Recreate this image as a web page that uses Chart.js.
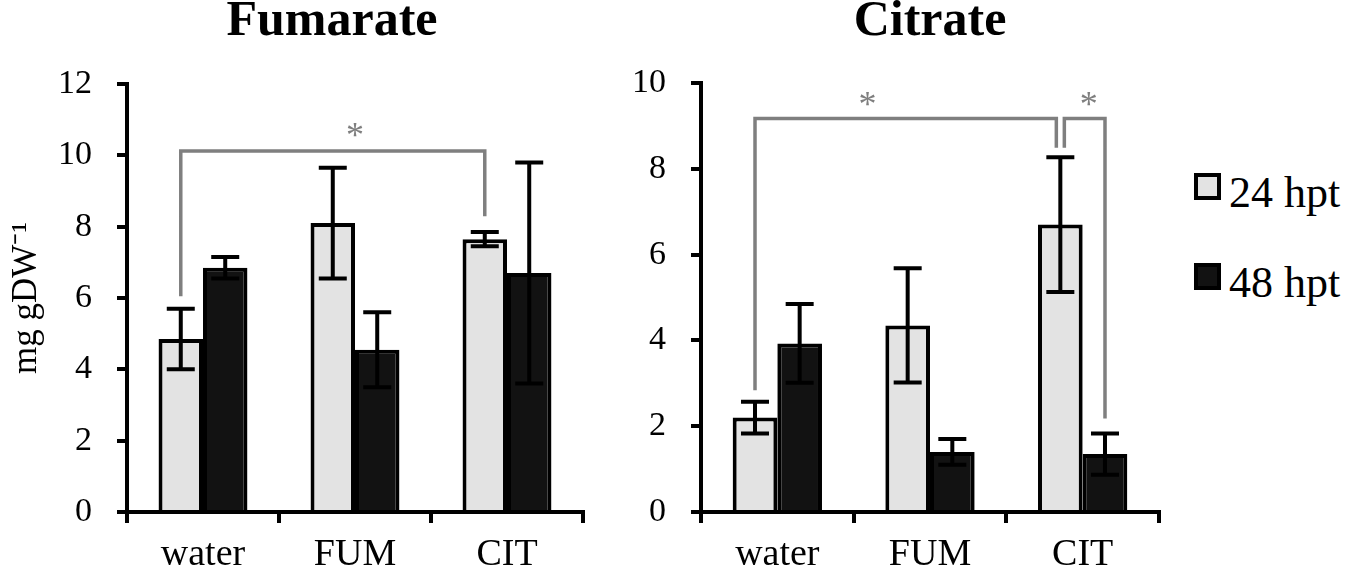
<!DOCTYPE html>
<html>
<head>
<meta charset="utf-8">
<script src="https://cdn.jsdelivr.net/npm/chart.js@4/dist/chart.umd.min.js"></script>
<style>
  body { margin: 0; background: #fff; width: 1350px; height: 572px; position: relative; overflow: hidden; font-family: "Liberation Serif", "Times New Roman", serif; }
  .box { position: absolute; top: 0; }
  .title { position: absolute; width: 400px; text-align: center; font-weight: bold; font-size: 50px; line-height: 50px; color: #000; }
  .legend-item { position: absolute; left: 1194px; height: 44px; }
  .legend-item span.sw { position: absolute; left: 0; top: 1px; width: 27px; height: 27px; box-sizing: border-box; border: 4px solid #000; }
  .legend-item span.tx { position: absolute; left: 35px; top: -1px; font-size: 44px; line-height: 44px; white-space: nowrap; color: #000; }
</style>
</head>
<body>
<div class="title" style="left:132px; top:-7px;" id="fumTitle"></div>
<div class="title" style="left:730px; top:-7px;" id="citTitle"></div>
<div class="box" style="left:0px;"><canvas id="fumChart" width="600" height="572"></canvas></div>
<div class="box" style="left:600px;"><canvas id="citChart" width="580" height="572"></canvas></div>
<div id="legend"></div>
<script>
const categories = ["water", "FUM", "CIT"];
const seriesLabels = ["24 hpt", "48 hpt"];
const chartTitles = ["Fumarate", "Citrate"];
const yLabel = "mg gDW\u207B\u00B9";

// Fumarate
const fum24 = [4.85, 8.1, 7.65];
const fum24Err = [0.85, 1.55, 0.2];
const fum48 = [6.85, 4.55, 6.7];
const fum48Err = [0.3, 1.05, 3.1];

// Citrate
const cit24 = [2.2, 4.35, 6.7];
const cit24Err = [0.37, 1.33, 1.57];
const cit48 = [3.93, 1.4, 1.35];
const cit48Err = [0.92, 0.3, 0.48];

// significance brackets: from/to = [category, series], values in axis units
const fumBrackets = [
  { from: [0, 0], to: [2, 0], top: 10.12, fromEnd: 6.05, toEnd: 8.29, star: [1.0, 10.5] }
];
const citBrackets = [
  { from: [0, 0], to: [2, 0], top: 9.17, fromEnd: 2.84, toEnd: 8.49, star: [0.59, 9.45] },
  { from: [2, 0], to: [2, 1], top: 9.17, fromEnd: 8.49, toEnd: 2.18, star: [2.04, 9.45] }
];

const fillColors = ["#e3e3e3", "#121212"];
const fontFamily = "'Liberation Serif', 'Times New Roman', serif";

const errorBars = {
  id: "errorBars",
  afterDatasetsDraw(chart) {
    const ctx = chart.ctx;
    const y = chart.scales.y;
    ctx.save();
    ctx.strokeStyle = "#000";
    ctx.lineWidth = 4;
    chart.data.datasets.forEach((ds, i) => {
      chart.getDatasetMeta(i).data.forEach((bar, j) => {
        const v = ds.data[j];
        const e = ds.errors[j];
        const top = y.getPixelForValue(v + e);
        const bot = y.getPixelForValue(v - e);
        ctx.beginPath();
        ctx.moveTo(bar.x, top);
        ctx.lineTo(bar.x, bot);
        ctx.moveTo(bar.x - 14, top);
        ctx.lineTo(bar.x + 14, top);
        ctx.moveTo(bar.x - 14, bot);
        ctx.lineTo(bar.x + 14, bot);
        ctx.stroke();
      });
    });
    ctx.restore();
  }
};

function bracketPlugin(list) {
  return {
    id: "sigBrackets",
    afterDraw(chart) {
      const ctx = chart.ctx;
      const xs = chart.scales.x;
      const y = chart.scales.y;
      const barX = (p) => chart.getDatasetMeta(p[1]).data[p[0]].x;
      const shared = (p, skip) => list.some(b => b !== skip &&
        ((b.from[0] === p[0] && b.from[1] === p[1]) || (b.to[0] === p[0] && b.to[1] === p[1])));
      ctx.save();
      ctx.strokeStyle = "#7f7f7f";
      ctx.fillStyle = "#7f7f7f";
      ctx.lineWidth = 3.5;
      ctx.lineJoin = "miter";
      list.forEach(b => {
        let x1 = barX(b.from);
        let x2 = barX(b.to);
        if (shared(b.from, b)) x1 += 4; // leave a little gap where brackets meet
        if (shared(b.to, b)) x2 -= 4;
        const yt = y.getPixelForValue(b.top);
        ctx.beginPath();
        ctx.moveTo(x1, y.getPixelForValue(b.fromEnd));
        ctx.lineTo(x1, yt);
        ctx.lineTo(x2, yt);
        ctx.lineTo(x2, y.getPixelForValue(b.toEnd));
        ctx.stroke();
        ctx.font = "36px " + fontFamily;
        ctx.textAlign = "center";
        ctx.textBaseline = "middle";
        ctx.fillText("*", xs.getPixelForValue(b.star[0]), y.getPixelForValue(b.star[1]));
      });
      ctx.restore();
    }
  };
}

function makeChart(canvasId, s1, e1, s2, e2, yMax, brackets, opts) {
  const ctx = document.getElementById(canvasId).getContext("2d");
  return new Chart(ctx, {
    type: "bar",
    data: {
      labels: categories,
      datasets: [
        { label: seriesLabels[0], data: s1, errors: e1, backgroundColor: fillColors[0], borderColor: "#000", borderWidth: 4 },
        { label: seriesLabels[1], data: s2, errors: e2, backgroundColor: fillColors[1], borderColor: "#000", borderWidth: 4 }
      ]
    },
    options: {
      responsive: false,
      animation: false,
      devicePixelRatio: 1,
      layout: { padding: { top: opts.top, right: opts.right, left: 0, bottom: 0 } },
      datasets: { bar: { categoryPercentage: 0.585, barPercentage: 1.0 } },
      plugins: { legend: { display: false }, tooltip: { enabled: false } },
      scales: {
        x: {
          grid: { display: true, drawOnChartArea: false, drawTicks: true, tickLength: 11, color: "#000", lineWidth: 4, offset: true },
          border: { display: true, color: "#000", width: 4 },
          ticks: { color: "#000", font: { family: fontFamily, size: 38 }, padding: 9 },
          afterFit: (scale) => { scale.height = 60; }
        },
        y: {
          min: 0,
          max: yMax,
          ticks: { stepSize: 2, color: "#000", font: { family: fontFamily, size: 34 }, padding: 25 },
          grid: { display: true, drawOnChartArea: false, drawTicks: true, tickLength: 10, color: "#000", lineWidth: 4 },
          border: { display: true, color: "#000", width: 4 },
          title: {
            display: opts.yTitle,
            text: yLabel,
            color: "#000",
            font: { family: fontFamily, size: 35, lineHeight: 1 },
            padding: { top: 9, bottom: 0 }
          },
          afterFit: (scale) => { scale.width = opts.yWidth; }
        }
      }
    },
    plugins: [errorBars, bracketPlugin(brackets)]
  });
}

makeChart("fumChart", fum24, fum24Err, fum48, fum48Err, 12, fumBrackets, { top: 84, right: 17, yWidth: 127, yTitle: true });
makeChart("citChart", cit24, cit24Err, cit48, cit48Err, 10, citBrackets, { top: 83, right: 21, yWidth: 101, yTitle: false });

document.getElementById("fumTitle").textContent = chartTitles[0];
document.getElementById("citTitle").textContent = chartTitles[1];

// legend
const legend = document.getElementById("legend");
seriesLabels.forEach((label, i) => {
  const item = document.createElement("div");
  item.className = "legend-item";
  item.style.top = (172 + i * 90) + "px";
  item.innerHTML = '<span class="sw" style="background:' + fillColors[i] + '"></span><span class="tx">' + label + "</span>";
  legend.appendChild(item);
});
</script>
</body>
</html>
